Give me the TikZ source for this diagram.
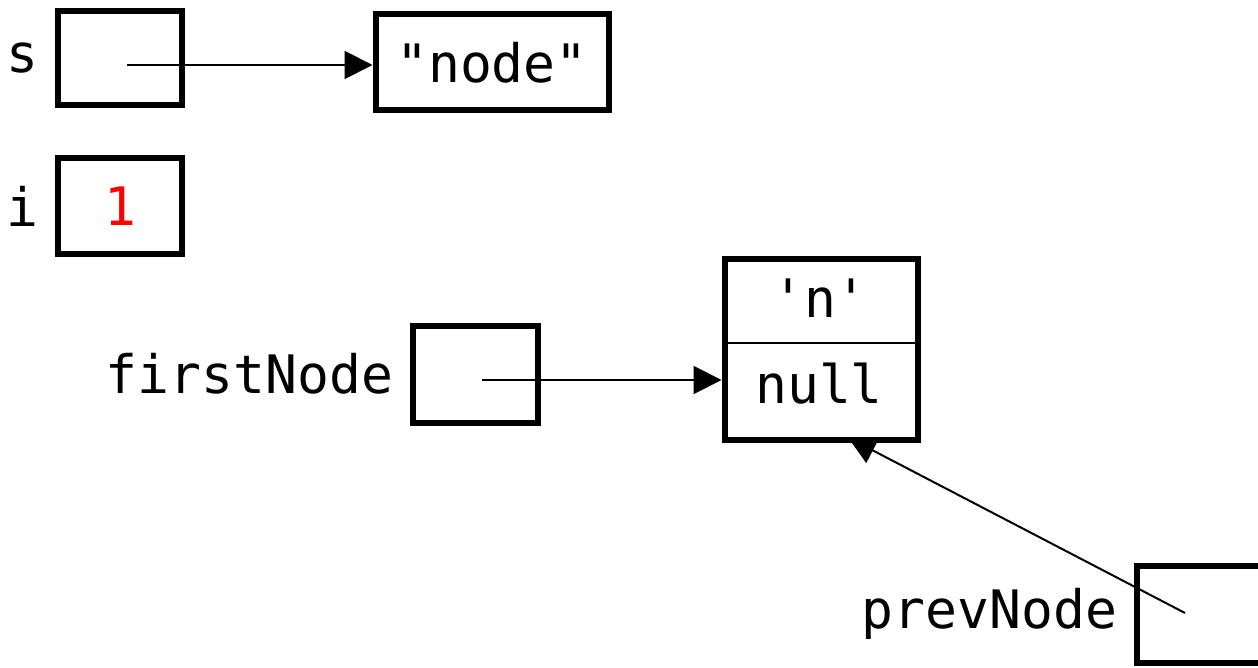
\documentclass[tikz,border=0pt]{standalone}
\usepackage{fontspec}
\setmonofont{DejaVu Sans Mono}
\usetikzlibrary{positioning,arrows.meta}

\pgfdeclarelayer{back}
\pgfsetlayers{back,main}

\tikzset{
  cell/.style={draw, line width=3pt, inner sep=0pt,
    minimum width=62pt, minimum height=48pt},
  ptr/.style={line width=1pt, -{Triangle[length=14pt,width=14pt]}},
  lbl/.style={inner sep=0pt}
}

\begin{document}
\begin{tikzpicture}[x=0.5pt, y=-0.5pt,
    font=\ttfamily\fontsize{26.5}{31}\selectfont]
    \useasboundingbox (0,0) rectangle (1258,668);

    % variables on the left
    \node[cell, minimum height=47pt] (sbox) at (120,58.5) {};
    \node[lbl, left=8pt of sbox] (slbl) {s};
    \node[cell] (ibox) at (120,206.5) {\textcolor{red}{1}};
    \node[lbl, left=8pt of ibox] (ilbl) {i};

    % the string object
    \node[cell, minimum width=116.5pt] (strbox) at (492,62.5) {"node"};

    % list node with its two fields
    \node[cell, minimum width=96.5pt, minimum height=90pt] (nodebox) at (821,349.5) {};
    \draw[line width=1pt] (nodebox.west |- 0,343) -- (nodebox.east |- 0,343);
    \node[lbl, anchor=base] (val) at (820,317) {'n'};
    \node[lbl, anchor=base] (nxt) at (819,403) {null};

    % references
    \node[cell, minimum width=62.5pt, minimum height=48.5pt] (firstbox) at (475,374) {};
    \node[lbl, left=8pt of firstbox] (firstlbl) {firstNode};
    \node[cell, minimum width=62.5pt, minimum height=48.5pt] (prevbox) at (1199,614) {};
    \node[lbl, left=8pt of prevbox] (prevlbl) {prevNode};

    % pointers
    \coordinate (sp) at (127,65);
    \draw[ptr] (sp) -- (sp -| strbox.west);
    \coordinate (fp) at (482,380);
    \draw[ptr] (fp) -- (fp -| nodebox.west);
    \coordinate (pp) at (1185,613);
    \begin{pgfonlayer}{back}
      \draw[ptr] (pp) -- ([xshift=13.5pt,yshift=2.5pt]nodebox.south);
    \end{pgfonlayer}
\end{tikzpicture}
\end{document}
